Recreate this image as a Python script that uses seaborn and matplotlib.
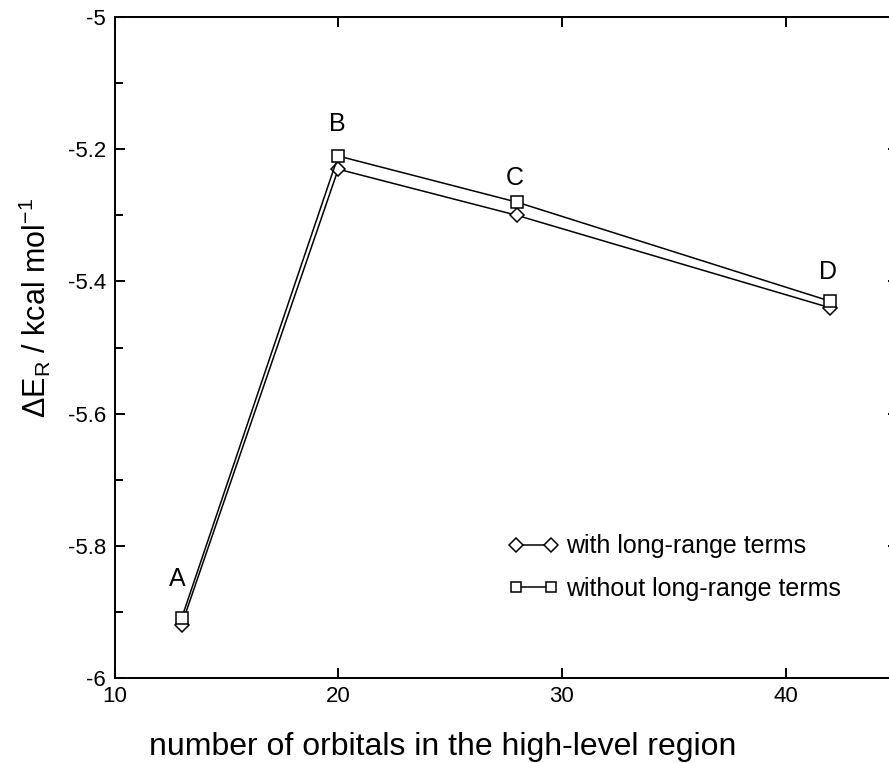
import numpy as np
import pandas as pd
import matplotlib
matplotlib.use("Agg")
import matplotlib.pyplot as plt
from matplotlib.ticker import MultipleLocator, FuncFormatter
import seaborn as sns

# Data: reaction energy vs. size of the high-level region
orbitals = [13, 20, 28, 42]
points = ["A", "B", "C", "D"]
with_lr = [-5.92, -5.23, -5.30, -5.44]
without_lr = [-5.91, -5.21, -5.28, -5.43]
series_names = ["with long-range terms", "without long-range terms"]

df = pd.DataFrame({
    "orbitals": orbitals * 2,
    "energy": with_lr + without_lr,
    "series": [series_names[0]] * 4 + [series_names[1]] * 4,
})

sns.set_theme(style="ticks")
plt.rcParams["font.family"] = ["Liberation Sans", "DejaVu Sans"]
plt.rcParams["mathtext.fontset"] = "custom"
plt.rcParams["mathtext.rm"] = "Liberation Sans"
plt.rcParams["mathtext.it"] = "Liberation Sans:italic"
plt.rcParams["axes.unicode_minus"] = False
plt.rcParams["text.color"] = "black"
plt.rcParams["axes.labelcolor"] = "black"

W, H = 889, 763
fig = plt.figure(figsize=(W / 100, H / 100), dpi=100)
left_px, right_px, top_px, bottom_px = 114.5, 897.5, 17.3, 677.7
ax = fig.add_axes([left_px / W, 1 - bottom_px / H,
                   (right_px - left_px) / W, (bottom_px - top_px) / H])

markers = {series_names[0]: "D", series_names[1]: "s"}
sizes = {series_names[0]: 7.5, series_names[1]: 8.0}
for i, name in enumerate(series_names):
    sub = df[df["series"] == name]
    sns.lineplot(data=sub, x="orbitals", y="energy", ax=ax, color="black",
                 lw=1.1, marker=markers[name], markersize=sizes[name],
                 markerfacecolor="white", markeredgecolor="black",
                 markeredgewidth=1.1, label=name, zorder=3 + i,
                 estimator=None, sort=False)

# point labels above the data
label_pos = [(12.8, -5.85), (19.95, -5.161), (27.9, -5.243), (41.9, -5.386)]
for name, (lx, ly) in zip(points, label_pos):
    ax.text(lx, ly, name, ha="center", va="center", fontsize=18, color="black")

ax.set_xlim(10, 45)
ax.set_ylim(-6, -5)
ax.xaxis.set_major_locator(MultipleLocator(10))
ax.yaxis.set_major_locator(MultipleLocator(0.2))
ax.yaxis.set_minor_locator(MultipleLocator(0.1))
fmt = FuncFormatter(lambda v, p: f"{v:g}")
ax.xaxis.set_major_formatter(fmt)
ax.yaxis.set_major_formatter(fmt)

for s in ax.spines.values():
    s.set_linewidth(1.4)
    s.set_color("black")

ax.tick_params(which="major", direction="in", length=7, width=1.4,
               top=True, right=True, labelsize=16, colors="black", pad=6)
ax.tick_params(which="minor", direction="in", length=5.5, width=1.4,
               left=True, right=False, top=False, bottom=False, colors="black")

ax.set_xlabel("number of orbitals in the high-level region", fontsize=23,
              va="baseline", color="black")
ax.xaxis.set_label_coords((442.5 - left_px) / (right_px - left_px),
                          (bottom_px - 755) / (bottom_px - top_px))
ax.set_ylabel(r"$\Delta$E$_\mathrm{R}$ / kcal mol$^{\mathrm{-1}}$", fontsize=22,
              color="black")
ax.yaxis.set_label_coords((53 - left_px) / (right_px - left_px),
                          (bottom_px - 308) / (bottom_px - top_px))

leg = ax.legend(loc="upper left", bbox_to_anchor=(0.49, 0.232), frameon=False,
                fontsize=18, numpoints=2, handlelength=2.0, handletextpad=0.3,
                labelspacing=0.75, borderaxespad=0, markerscale=0.9)
for t in leg.get_texts():
    t.set_color("black")

fig.savefig("out.png", dpi=100)
